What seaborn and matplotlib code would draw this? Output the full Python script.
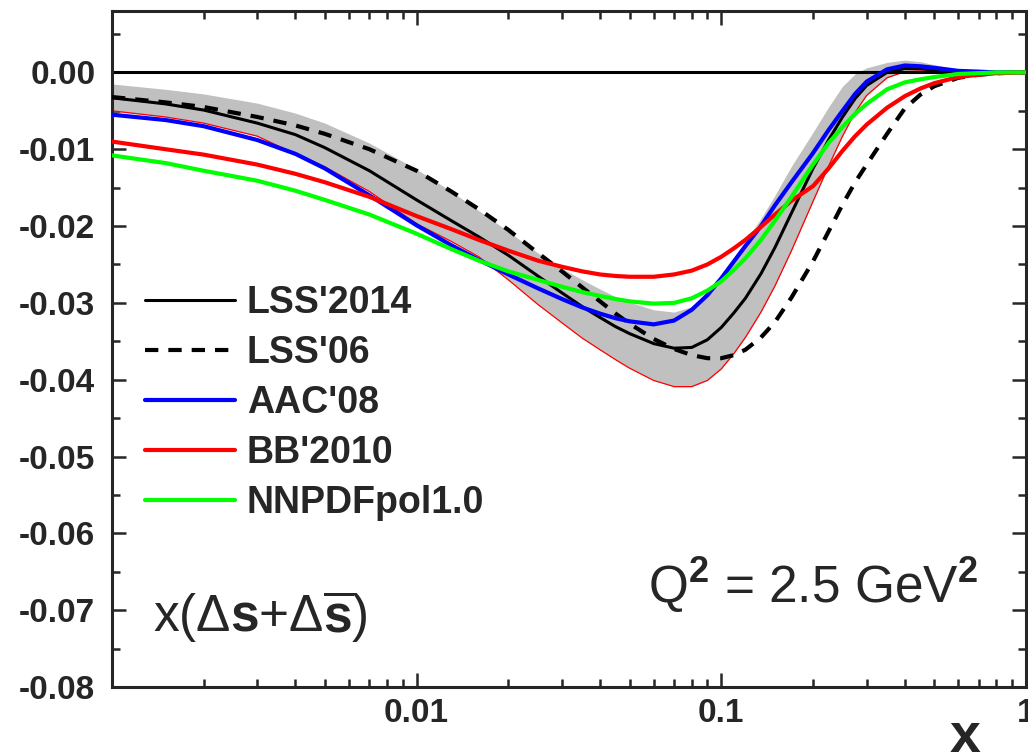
import numpy as np
import pandas as pd
import matplotlib
matplotlib.use("Agg")
import matplotlib.pyplot as plt
from matplotlib.ticker import FixedLocator, FixedFormatter, MultipleLocator, FuncFormatter, LogLocator
import seaborn as sns

# x(Δs + Δs̄) at Q² = 2.5 GeV², several PDF sets
x_grid = [0.001, 0.0015, 0.002, 0.003, 0.004, 0.005, 0.007, 0.01, 0.013, 0.016,
          0.02, 0.025, 0.03, 0.035, 0.04, 0.045, 0.05, 0.06, 0.07, 0.08,
          0.09, 0.1, 0.11, 0.12, 0.135, 0.15, 0.17, 0.2, 0.225, 0.25,
          0.275, 0.3, 0.35, 0.4, 0.45, 0.5, 0.6, 0.7, 0.8, 1.0]

lss14 = [-0.0033, -0.0041, -0.0049, -0.0066, -0.0081, -0.0098, -0.0128, -0.0166, -0.0193, -0.0214,
         -0.0238, -0.0265, -0.0287, -0.0305, -0.0319, -0.0331, -0.0340, -0.0353, -0.0359, -0.0358,
         -0.0348, -0.0332, -0.0313, -0.0294, -0.0262, -0.0228, -0.0183, -0.0125, -0.0088, -0.0058,
         -0.0034, -0.0017, 0.0000, 0.0005, 0.0005, 0.0003, 0.0001, 0.0, 0.0, 0.0]
lss14_hi = [-0.0015, -0.0022, -0.0028, -0.0040, -0.0053, -0.0066, -0.0092, -0.0126, -0.0155, -0.0180,
            -0.0207, -0.0235, -0.0255, -0.0270, -0.0282, -0.0292, -0.0299, -0.0309, -0.0312, -0.0305,
            -0.0287, -0.0264, -0.0241, -0.0220, -0.0190, -0.0160, -0.0122, -0.0078, -0.0045, -0.0018,
            -0.0002, 0.0006, 0.0013, 0.0016, 0.0014, 0.0010, 0.0004, 0.0001, 0.0, 0.0]
lss14_lo = [-0.0050, -0.0058, -0.0066, -0.0083, -0.0106, -0.0123, -0.0155, -0.0197, -0.0220, -0.0240,
            -0.0270, -0.0302, -0.0326, -0.0346, -0.0361, -0.0374, -0.0385, -0.0401, -0.0409, -0.0409,
            -0.0401, -0.0386, -0.0366, -0.0345, -0.0312, -0.0278, -0.0232, -0.0168, -0.0122, -0.0083,
            -0.0052, -0.0030, -0.0007, 0.0001, 0.0002, 0.0002, 0.0001, 0.0, 0.0, 0.0]
lss06 = [-0.0032, -0.0039, -0.0045, -0.0058, -0.0069, -0.0080, -0.0100, -0.0128, -0.0155, -0.0178,
         -0.0205, -0.0235, -0.0259, -0.0280, -0.0298, -0.0314, -0.0327, -0.0347, -0.0360, -0.0368,
         -0.0372, -0.0372, -0.0368, -0.0361, -0.0345, -0.0325, -0.0293, -0.0246, -0.0207, -0.0172,
         -0.0143, -0.0120, -0.0080, -0.0047, -0.0029, -0.0018, -0.0007, -0.0003, -0.0001, 0.0]
aac08 = [-0.0055, -0.0062, -0.0070, -0.0088, -0.0106, -0.0125, -0.0160, -0.0199, -0.0225, -0.0244,
         -0.0263, -0.0281, -0.0295, -0.0306, -0.0314, -0.0320, -0.0324, -0.0328, -0.0323, -0.0309,
         -0.0290, -0.0268, -0.0246, -0.0226, -0.0200, -0.0173, -0.0143, -0.0105, -0.0075, -0.0050,
         -0.0028, -0.0012, 0.0004, 0.0009, 0.0008, 0.0006, 0.0002, 0.0001, 0.0, 0.0]
bb10 = [-0.0090, -0.0100, -0.0107, -0.0120, -0.0132, -0.0143, -0.0162, -0.0187, -0.0204, -0.0218,
        -0.0232, -0.0245, -0.0253, -0.0259, -0.0263, -0.0265, -0.0266, -0.0266, -0.0263, -0.0258,
        -0.0250, -0.0240, -0.0229, -0.0218, -0.0201, -0.0185, -0.0167, -0.0148, -0.0125, -0.0102,
        -0.0083, -0.0068, -0.0046, -0.0031, -0.0021, -0.0014, -0.0006, -0.0003, -0.0001, 0.0]
nnpdf = [-0.0108, -0.0118, -0.0128, -0.0141, -0.0154, -0.0166, -0.0185, -0.0210, -0.0230, -0.0245,
         -0.0259, -0.0270, -0.0279, -0.0286, -0.0291, -0.0295, -0.0298, -0.0301, -0.0300, -0.0294,
         -0.0284, -0.0272, -0.0257, -0.0242, -0.0218, -0.0193, -0.0162, -0.0120, -0.0092, -0.0071,
         -0.0054, -0.0041, -0.0022, -0.0013, -0.0009, -0.0006, -0.0002, -0.0001, 0.0, 0.0]

series_names = ["LSS'2014", "LSS'06", "AAC'08", "BB'2010", "NNPDFpol1.0"]
x_ticks = [0.001, 0.01, 0.1, 1.0]
x_tick_labels = ["", "0.01", "0.1", "1"]
y_ticks = [-0.08, -0.07, -0.06, -0.05, -0.04, -0.03, -0.02, -0.01, 0.0]

sns.set_style("ticks")
plt.rcParams["font.family"] = ["Liberation Sans", "DejaVu Sans"]
plt.rcParams["mathtext.fontset"] = "custom"
plt.rcParams["mathtext.rm"] = "Liberation Sans"
plt.rcParams["mathtext.bf"] = "Liberation Sans:bold"
plt.rcParams["mathtext.it"] = "Liberation Sans:italic"

fig = plt.figure(figsize=(10.28, 7.56), dpi=100)
ax = fig.add_axes([0.1089, 0.0913, 0.8891, 0.8942])

# uncertainty band of the LSS'2014 fit
ax.fill_between(x_grid, lss14_lo, lss14_hi, color="#c0c0c0", lw=0, zorder=1)
ax.plot(x_grid, lss14_lo, color="red", lw=0.9, zorder=1.5)

ax.axhline(0.0, color="black", lw=2.2, zorder=1.8)

styles = [
    (lss14, "black", 2.2, "-"),
    (lss06, "black", 3.0, (0, (3.2, 2.4))),
    (aac08, "#0000ff", 3.0, "-"),
    (bb10, "#ff0000", 3.0, "-"),
    (nnpdf, "#00ff00", 3.0, "-"),
]
for name, (vals, col, lw, ls) in zip(series_names, styles):
    sns.lineplot(x=x_grid, y=vals, ax=ax, color=col, lw=lw, linestyle=ls,
                 label=name, zorder=3, sort=False)

ax.set_xscale("log")
ax.set_xlim(0.001, 1.0)
ax.set_ylim(-0.08, 0.008)

ax.xaxis.set_major_locator(FixedLocator(x_ticks))
ax.xaxis.set_major_formatter(FixedFormatter(x_tick_labels))
ax.xaxis.set_minor_locator(LogLocator(base=10, subs=np.arange(2, 10), numticks=20))
ax.xaxis.set_minor_formatter(FuncFormatter(lambda v, p: ""))
ax.yaxis.set_major_locator(FixedLocator(y_ticks))
ax.yaxis.set_major_formatter(FuncFormatter(lambda v, p: f"{v:.2f}".replace("-0.00", "0.00")))
ax.yaxis.set_minor_locator(MultipleLocator(0.005))

ax.tick_params(which="both", direction="in", top=True, right=True, width=1.8,
               labelsize=24)
ax.tick_params(which="major", length=10)
ax.tick_params(which="minor", length=5.5)
ax.tick_params(axis="y", pad=12)
ax.tick_params(axis="x", pad=8)
for lab in ax.get_xticklabels() + ax.get_yticklabels():
    lab.set_fontweight("bold")
for sp in ax.spines.values():
    sp.set_linewidth(2.2)
ax.set_xlabel("")
ax.set_ylabel("")

leg = ax.legend(loc="upper left", bbox_to_anchor=(0.036, 0.594), frameon=False,
                borderpad=0, borderaxespad=0, handlelength=2.4, handletextpad=0.32,
                labelspacing=0.37, prop={"weight": "bold", "size": 27})

ax.text(0.045, 0.081, r"$\mathregular{x(\Delta\mathbf{s}{+}\Delta\overline{\mathbf{s}})}$",
        transform=ax.transAxes, fontsize=37, va="baseline", ha="left")
ax.text(0.586, 0.124, r"Q$^{\mathbf{2}}$ = 2.5 GeV$^{\mathbf{2}}$",
        transform=ax.transAxes, fontsize=37, va="baseline", ha="left")

fig.text(965 / 1028, (756 - 712) / 756, "x", fontsize=40, fontweight="bold",
         ha="center", va="top")

fig.savefig("out.png", dpi=100)
